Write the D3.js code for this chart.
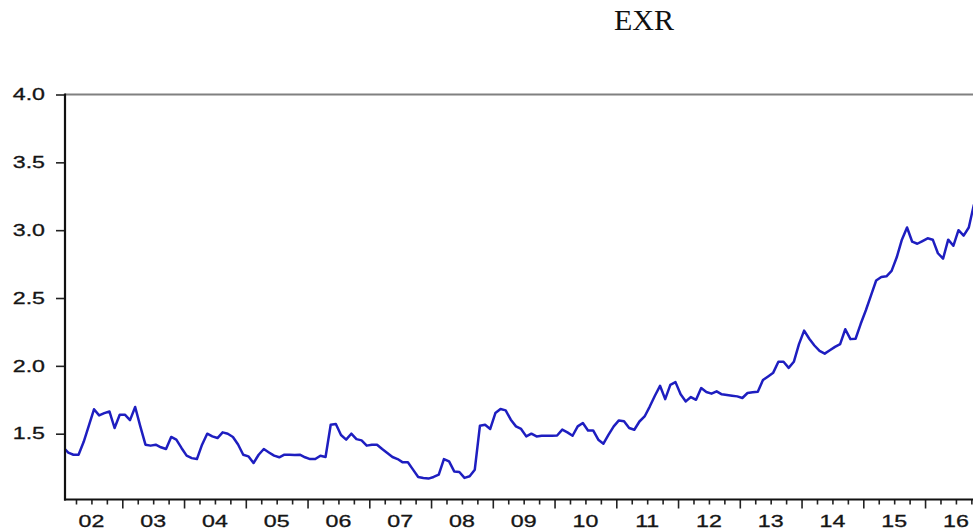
<!DOCTYPE html>
<html>
<head>
<meta charset="utf-8">
<script src="https://cdn.jsdelivr.net/npm/d3@7"></script>
<style>
  html, body { margin: 0; padding: 0; background: #fff; }
  svg { display: block; }
</style>
</head>
<body>
<svg id="chart" width="973" height="532"></svg>
<script>
// Monthly exchange rate series, first observation January 2002
const startYear = 2002;
const exr = [
  1.40, 1.36, 1.345, 1.345, 1.44, 1.56, 1.68, 1.635, 1.652, 1.664, 1.542, 1.64,
  1.64, 1.60, 1.697, 1.554, 1.419, 1.412, 1.419, 1.40, 1.387, 1.476, 1.456, 1.395,
  1.338, 1.32, 1.313, 1.419, 1.50, 1.48, 1.468, 1.51, 1.50, 1.476, 1.42, 1.345,
  1.333, 1.284, 1.345, 1.387, 1.362, 1.338, 1.326, 1.345, 1.345, 1.343, 1.345, 1.326,
  1.313, 1.313, 1.338, 1.328, 1.566, 1.571, 1.49, 1.456, 1.50, 1.46, 1.451, 1.412,
  1.419, 1.419, 1.387, 1.358, 1.328, 1.313, 1.289, 1.289, 1.235, 1.181, 1.174, 1.169,
  1.181, 1.198, 1.313, 1.296, 1.222, 1.218, 1.174, 1.186, 1.235, 1.559, 1.566, 1.535,
  1.652, 1.682, 1.672, 1.603, 1.554, 1.535, 1.48, 1.50, 1.48, 1.485, 1.485, 1.485,
  1.487, 1.53, 1.51, 1.485, 1.554, 1.579, 1.524, 1.524, 1.456, 1.426, 1.493, 1.554,
  1.598, 1.592, 1.542, 1.529, 1.59, 1.627, 1.70, 1.78, 1.853, 1.755, 1.86, 1.88,
  1.79, 1.738, 1.77, 1.75, 1.836, 1.807, 1.795, 1.812, 1.79, 1.785, 1.78, 1.775,
  1.763, 1.80, 1.805, 1.81, 1.895, 1.922, 1.95, 2.03, 2.03, 1.985, 2.03, 2.16,
  2.26, 2.20, 2.15, 2.11, 2.09, 2.115, 2.14, 2.16, 2.27, 2.197, 2.20, 2.31,
  2.41, 2.52, 2.629, 2.655, 2.66, 2.70, 2.80, 2.93, 3.02, 2.915, 2.90, 2.92,
  2.94, 2.93, 2.83, 2.79, 2.93, 2.885, 3.00, 2.96, 3.02, 3.19
];
const yTickValues = [1.5, 2.0, 2.5, 3.0, 3.5, 4.0];
const yearLabels = ["02","03","04","05","06","07","08","09","10","11","12","13","14","15","16"];
const title = "EXR";

const svg = d3.select("#chart");
const W = 973, H = 532;
const plot = { left: 65, top: 94.5, bottom: 499.5, right: 1000 };

// Time scale in fractional years; each month is plotted at its midpoint
const x = d3.scaleLinear().domain([2002, 2017]).range([60.55, 60.55 + 15 * 61.75]);
const y = d3.scaleLinear().domain([1.015, 4.0]).range([plot.bottom, plot.top]);
const tOf = i => startYear + (i + 0.5) / 12;

// Title
svg.append("text")
  .attr("x", 644).attr("y", 30)
  .attr("text-anchor", "middle")
  .attr("font-family", "'Liberation Serif', 'Times New Roman', serif")
  .attr("font-size", 30)
  .attr("fill", "#111")
  .text(title);

// Clip region for the series
svg.append("defs").append("clipPath").attr("id", "plotclip")
  .append("rect")
  .attr("x", plot.left + 1).attr("y", plot.top)
  .attr("width", plot.right - plot.left).attr("height", plot.bottom - plot.top);

// Top frame line
svg.append("line")
  .attr("x1", plot.left).attr("x2", plot.right)
  .attr("y1", plot.top).attr("y2", plot.top)
  .attr("stroke", "#808080").attr("stroke-width", 2);

// Series line
const line = d3.line()
  .x((d, i) => x(tOf(i)))
  .y(d => y(d));

svg.append("path")
  .datum(exr)
  .attr("clip-path", "url(#plotclip)")
  .attr("fill", "none")
  .attr("stroke", "#1e1ec0")
  .attr("stroke-width", 2.5)
  .attr("stroke-linejoin", "round")
  .attr("d", line);

// Left axis
const yAxis = d3.axisLeft(y).tickValues(yTickValues).tickSize(9).tickFormat("");
const gy = svg.append("g").attr("transform", `translate(${plot.left},0)`).call(yAxis);
gy.select(".domain").remove();
gy.selectAll(".tick line").attr("stroke", "#222").attr("stroke-width", 1.6);
svg.append("line")
  .attr("x1", plot.left).attr("x2", plot.left)
  .attr("y1", plot.top - 1).attr("y2", plot.bottom + 1)
  .attr("stroke", "#111").attr("stroke-width", 2.2);

svg.append("g").selectAll("text")
  .data(yTickValues)
  .join("text")
  .attr("transform", d => `translate(45,${y(d)}) scale(1.45,1)`)
  .attr("dy", "0.36em")
  .attr("text-anchor", "end")
  .attr("font-family", "'Liberation Sans', Arial, sans-serif")
  .attr("font-size", 16)
  .attr("fill", "#151515")
  .attr("stroke", "#151515").attr("stroke-width", 0.3)
  .text(d3.format(".1f"));

// Bottom axis: quarterly ticks, longer at the start of each year
const quarterTicks = d3.range(2002, 2017.01, 0.25).filter(t => x(t) > plot.left + 2 && x(t) < W);
const xAxis = d3.axisBottom(x).tickValues(quarterTicks).tickSize(5).tickFormat("");
const gx = svg.append("g").attr("transform", `translate(0,${plot.bottom})`).call(xAxis);
gx.select(".domain").remove();
gx.selectAll(".tick line")
  .attr("stroke", "#222").attr("stroke-width", 1.6)
  .attr("y2", d => Math.abs(d - Math.round(d)) < 1e-6 ? 9 : 5);
svg.append("line")
  .attr("x1", plot.left - 1).attr("x2", plot.right)
  .attr("y1", plot.bottom).attr("y2", plot.bottom)
  .attr("stroke", "#111").attr("stroke-width", 2.2);

svg.append("g").selectAll("text")
  .data(yearLabels)
  .join("text")
  .attr("transform", (d, i) => `translate(${x(startYear + i + 0.5)},527) scale(1.45,1)`)
  .attr("text-anchor", "middle")
  .attr("font-family", "'Liberation Sans', Arial, sans-serif")
  .attr("font-size", 16)
  .attr("fill", "#151515")
  .attr("stroke", "#151515").attr("stroke-width", 0.3)
  .text(d => d);
</script>
</body>
</html>
